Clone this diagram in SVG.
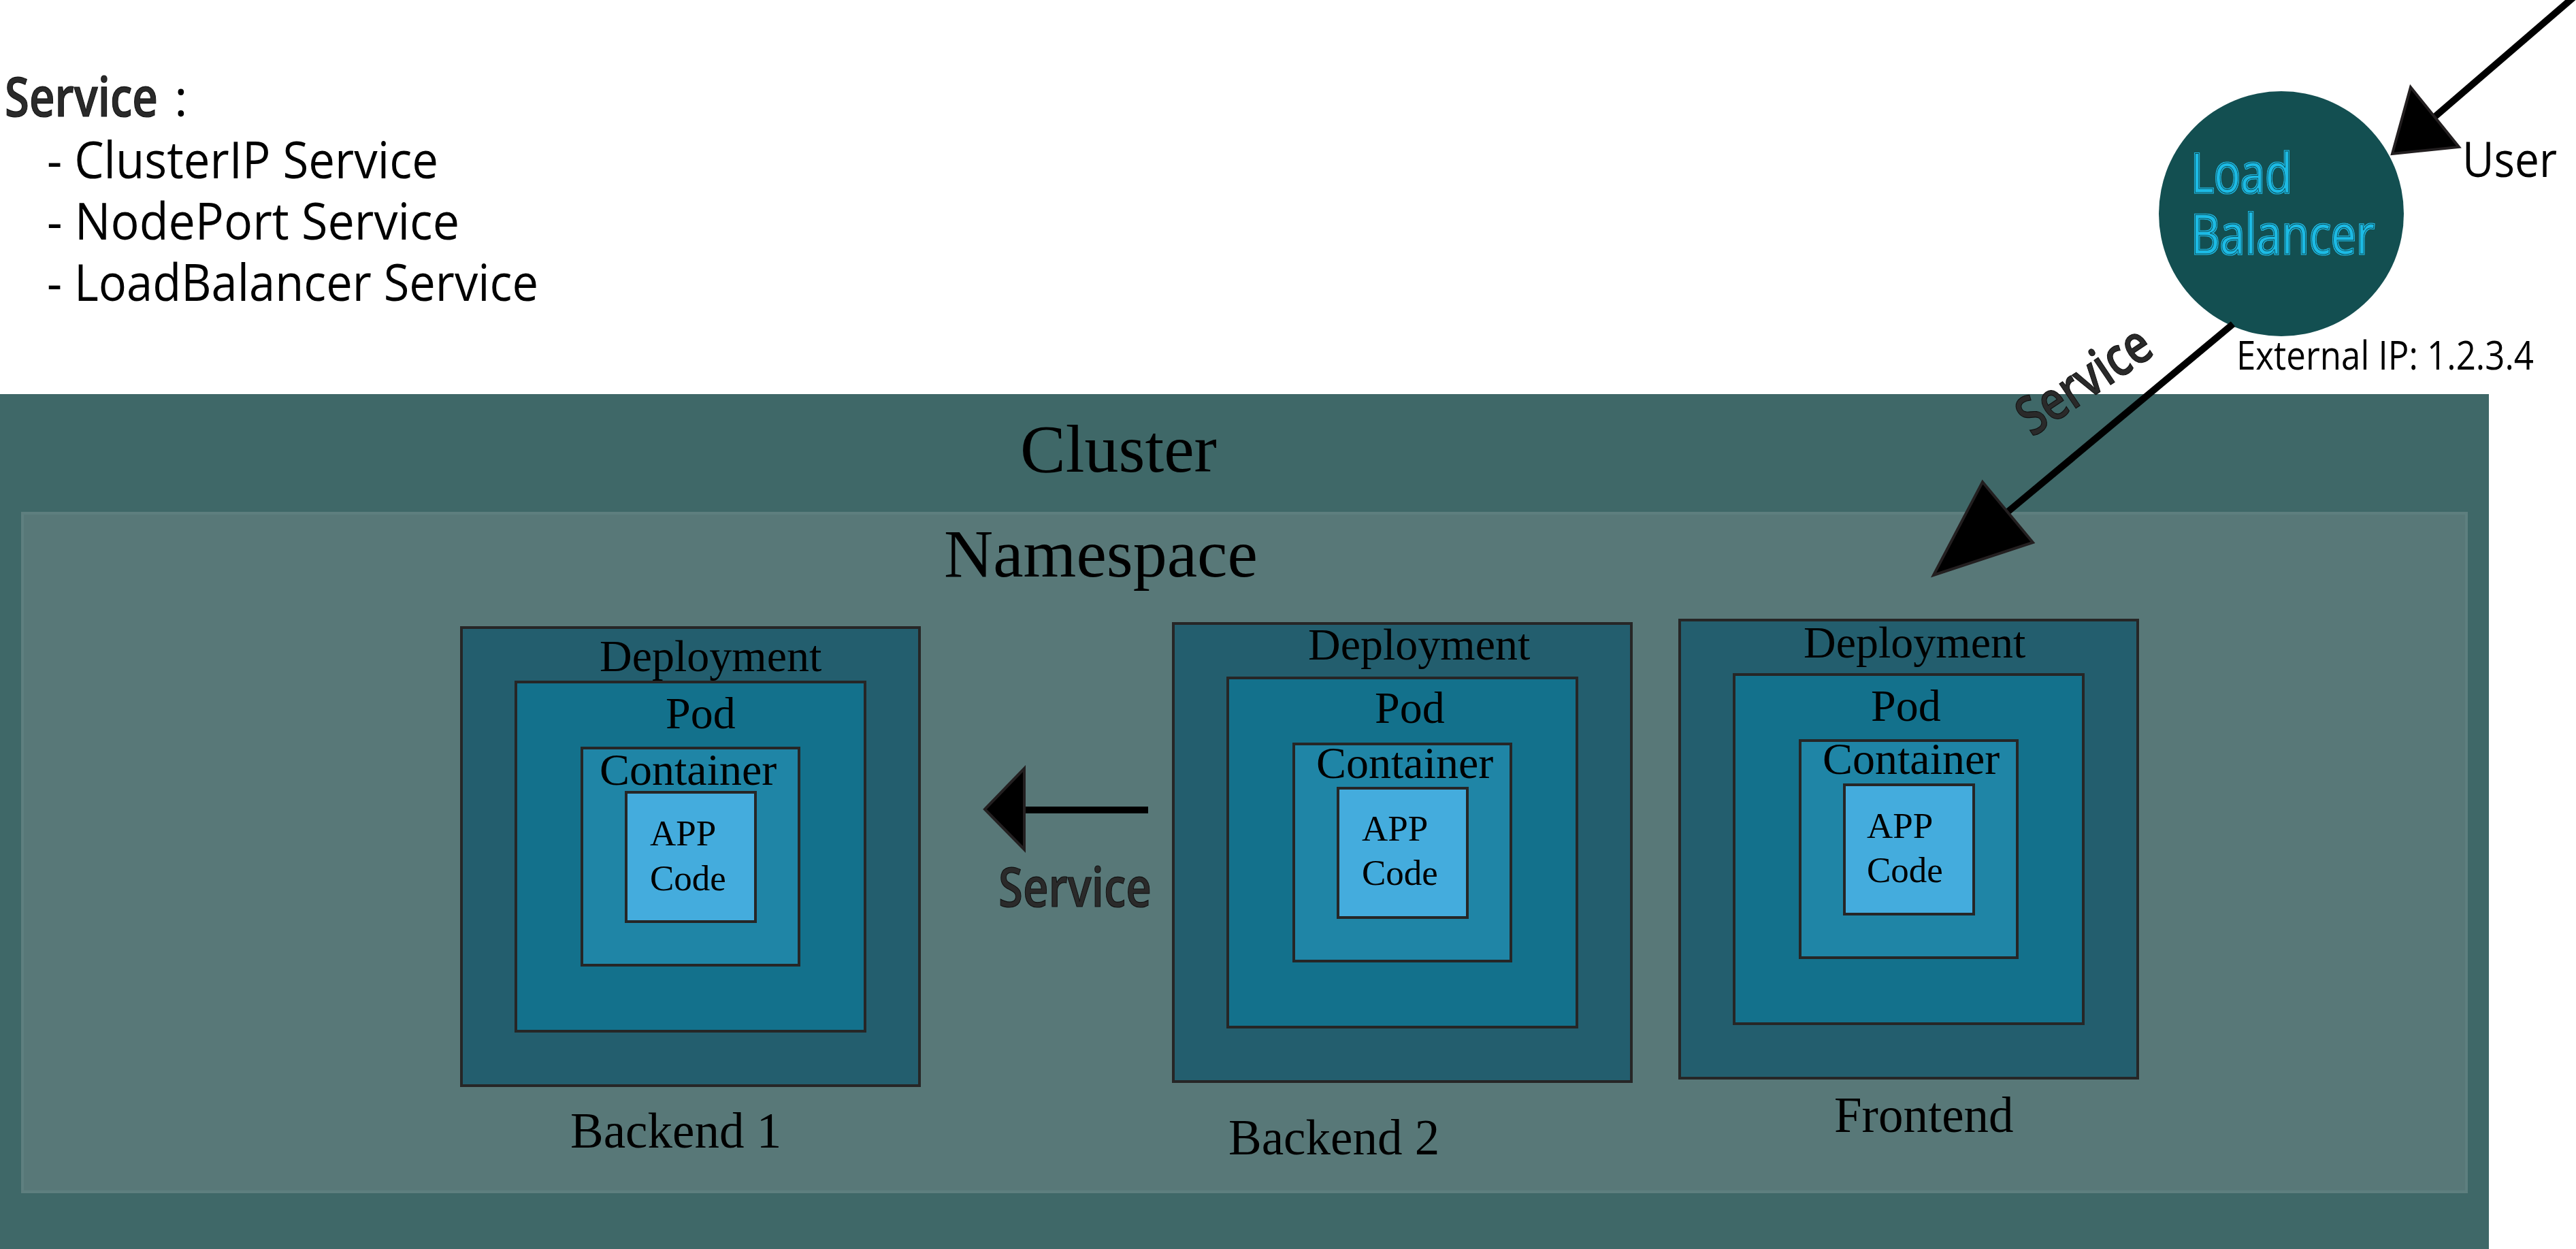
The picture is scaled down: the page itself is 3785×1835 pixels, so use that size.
<svg xmlns="http://www.w3.org/2000/svg" width="3785" height="1835" viewBox="0 0 3785 1835">
  <style>
    .sans { font-family: "Open Sans", "Noto Sans", "DejaVu Sans", sans-serif; }
    .serif { font-family: "Liberation Serif", "Times New Roman", serif; fill: #000; }
    .box { stroke: #262626; stroke-width: 4; }
    .dep { fill: #235e6e; }
    .pod { fill: #13718c; }
    .ctr { fill: #1f85a6; }
    .app { fill: #44acdd; }
    .t-dep { font-size: 66px; }
    .t-app { font-size: 53px; }
    .t-name { font-size: 73px; }
    .svc { font-weight: 600; font-size: 80px; fill: #2a2a2a; stroke: #111; stroke-width: 1.2; }
    .lb-text { font-size: 80px; fill: #1ebbe5; stroke: #0f4346; stroke-width: 1; filter: url(#halo); }
    .wire { stroke: #000; stroke-width: 10; stroke-linecap: butt; fill: none; }
    .head { fill: #000; stroke: #231f20; stroke-width: 4; stroke-linejoin: miter; }
  </style>
  <defs>
    <!-- cyan rim around the load balancer lettering -->
    <filter id="halo" x="-10%" y="-30%" width="120%" height="160%">
      <feMorphology in="SourceAlpha" operator="dilate" radius="1.4" result="fat"/>
      <feFlood flood-color="#1ebbe5"/>
      <feComposite in2="fat" operator="in" result="rim"/>
      <feMerge>
        <feMergeNode in="rim"/>
        <feMergeNode in="SourceGraphic"/>
      </feMerge>
    </filter>
  </defs>

  <rect x="0" y="0" width="3785" height="1835" fill="#ffffff"/>

  <!-- legend of service types -->
  <g id="service-types" class="sans">
    <text x="7" y="171" class="svc" textLength="225" lengthAdjust="spacingAndGlyphs">Service</text>
    <text x="256" y="171" font-size="75" fill="#000">:</text>
    <text x="69" y="262" font-size="75" fill="#000" textLength="575" lengthAdjust="spacingAndGlyphs">- ClusterIP Service</text>
    <text x="69" y="352" font-size="75" fill="#000" textLength="606" lengthAdjust="spacingAndGlyphs">- NodePort Service</text>
    <text x="69" y="442" font-size="75" fill="#000" textLength="722" lengthAdjust="spacingAndGlyphs">- LoadBalancer Service</text>
  </g>

  <!-- cluster and namespace -->
  <g id="cluster">
    <rect x="0" y="579" width="3657" height="1256" fill="#3f6868"/>
    <text x="1499" y="693" class="serif" font-size="100">Cluster</text>
  </g>
  <g id="namespace">
    <rect x="33" y="754" width="3591" height="997" fill="#587878" stroke="#5e7f7f" stroke-width="4"/>
    <text x="1387" y="847" class="serif" font-size="100">Namespace</text>
  </g>

  <!-- Backend 1 -->
  <g id="backend1">
    <rect class="box dep" x="678" y="922" width="673" height="673"/>
    <rect class="box pod" x="758" y="1002" width="513" height="513"/>
    <rect class="box ctr" x="855" y="1099" width="319" height="319"/>
    <rect class="box app" x="920" y="1164" width="190" height="190"/>
    <text class="serif t-dep" x="881" y="986">Deployment</text>
    <text class="serif t-dep" x="978" y="1070">Pod</text>
    <text class="serif t-dep" x="881" y="1153">Container</text>
    <text class="serif t-app" x="955" y="1242">APP</text>
    <text class="serif t-app" x="955" y="1308">Code</text>
    <text class="serif t-name" x="838" y="1686">Backend 1</text>
  </g>

  <!-- Backend 2 -->
  <g id="backend2">
    <rect class="box dep" x="1724" y="916" width="673" height="673"/>
    <rect class="box pod" x="1804" y="996" width="513" height="513"/>
    <rect class="box ctr" x="1901" y="1093" width="319" height="319"/>
    <rect class="box app" x="1966" y="1158" width="190" height="190"/>
    <text class="serif t-dep" x="1922" y="969">Deployment</text>
    <text class="serif t-dep" x="2020" y="1062">Pod</text>
    <text class="serif t-dep" x="1934" y="1143">Container</text>
    <text class="serif t-app" x="2001" y="1235">APP</text>
    <text class="serif t-app" x="2001" y="1300">Code</text>
    <text class="serif t-name" x="1805" y="1696">Backend 2</text>
  </g>

  <!-- Frontend -->
  <g id="frontend">
    <rect class="box dep" x="2468" y="911" width="673" height="673"/>
    <rect class="box pod" x="2548" y="991" width="513" height="513"/>
    <rect class="box ctr" x="2645" y="1088" width="319" height="319"/>
    <rect class="box app" x="2710" y="1153" width="190" height="190"/>
    <text class="serif t-dep" x="2650" y="966">Deployment</text>
    <text class="serif t-dep" x="2749" y="1059">Pod</text>
    <text class="serif t-dep" x="2678" y="1137">Container</text>
    <text class="serif t-app" x="2743" y="1231">APP</text>
    <text class="serif t-app" x="2743" y="1296">Code</text>
    <text class="serif t-name" x="2695" y="1663">Frontend</text>
  </g>

  <!-- load balancer -->
  <g id="load-balancer" class="sans">
    <circle cx="3352" cy="314" r="180" fill="#134f51"/>
    <text class="lb-text" x="3219" y="283" textLength="149" lengthAdjust="spacingAndGlyphs">Load</text>
    <text class="lb-text" x="3219" y="373" textLength="270" lengthAdjust="spacingAndGlyphs">Balancer</text>
    <text x="3286" y="543" font-size="58" fill="#000" textLength="437" lengthAdjust="spacingAndGlyphs">External IP: 1.2.3.4</text>
  </g>

  <g id="user" class="sans">
    <text x="3618" y="260" font-size="72" fill="#000" textLength="139" lengthAdjust="spacingAndGlyphs">User</text>
  </g>

  <!-- connectors -->
  <g id="connectors">
    <!-- user to load balancer -->
    <line class="wire" x1="3800" y1="-20" x2="3577" y2="172"/>
    <polygon class="head" points="3515,226 3542,128 3613,216"/>
    <!-- load balancer to frontend -->
    <line class="wire" x1="3281" y1="476" x2="2950" y2="752"/>
    <polygon class="head" points="2841,845 2913,708 2987,797"/>
    <text class="sans svc" x="2986" y="643" transform="rotate(-34 2986 643)" textLength="220" lengthAdjust="spacingAndGlyphs">Service</text>
    <!-- backend 2 to backend 1 -->
    <line class="wire" x1="1687" y1="1190" x2="1505" y2="1190"/>
    <polygon class="head" points="1447,1189 1505,1129 1505,1248"/>
    <text class="sans svc" x="1467" y="1332" textLength="225" lengthAdjust="spacingAndGlyphs">Service</text>
  </g>
</svg>
